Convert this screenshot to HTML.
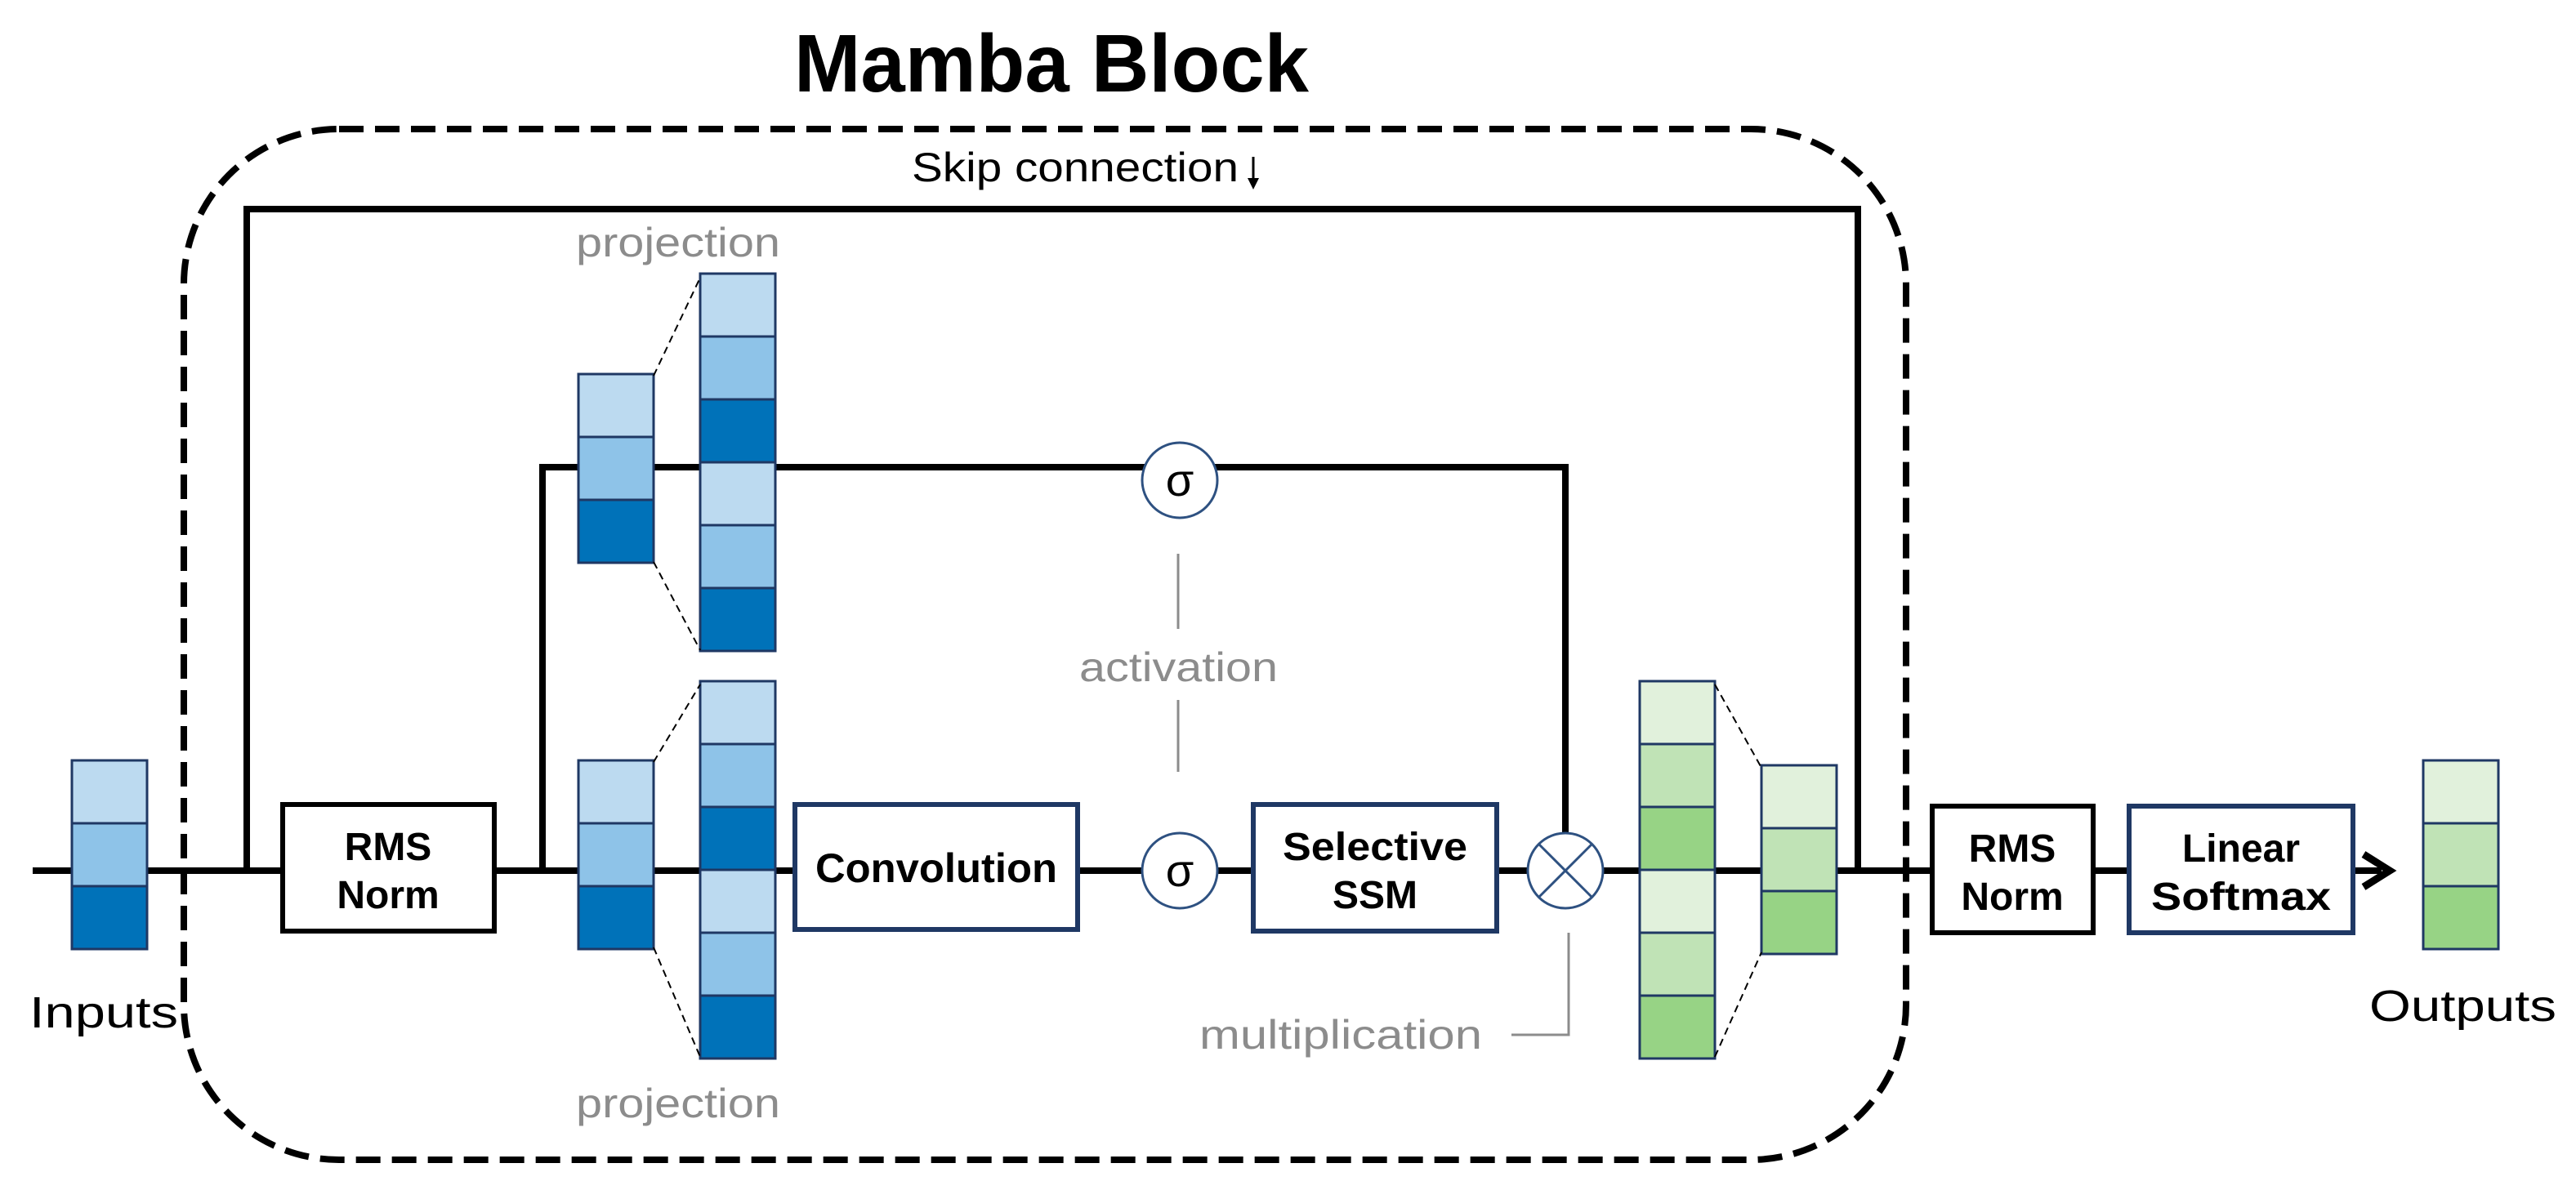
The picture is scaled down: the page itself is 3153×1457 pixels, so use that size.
<!DOCTYPE html>
<html><head><meta charset="utf-8"><style>
html,body{margin:0;padding:0;background:#fff;}
svg{display:block;}
text{font-family:"Liberation Sans","DejaVu Sans",sans-serif;}
</style></head><body>
<svg width="3153" height="1457" viewBox="0 0 3153 1457" xmlns="http://www.w3.org/2000/svg">
<defs>
<g id="bstack">
<rect x="0" y="0" width="92" height="77" fill="#bcdaf0" stroke="#1f3864" stroke-width="3"/>
<rect x="0" y="77" width="92" height="77" fill="#8ec3e8" stroke="#1f3864" stroke-width="3"/>
<rect x="0" y="154" width="92" height="77" fill="#0072b9" stroke="#1f3864" stroke-width="3"/>
</g>
<g id="gstack">
<rect x="0" y="0" width="92" height="77" fill="#e1f1dc" stroke="#1f3864" stroke-width="3"/>
<rect x="0" y="77" width="92" height="77" fill="#c0e3b6" stroke="#1f3864" stroke-width="3"/>
<rect x="0" y="154" width="92" height="77" fill="#97d385" stroke="#1f3864" stroke-width="3"/>
</g>
</defs>

<text x="1287" y="112" font-size="100" font-weight="bold" text-anchor="middle" fill="#000" textLength="630" lengthAdjust="spacingAndGlyphs">Mamba Block</text>

<rect x="225" y="158" width="2108" height="1262" rx="190" ry="190" fill="none" stroke="#000" stroke-width="8" stroke-dasharray="30 14"/>

<text x="1116" y="222" font-size="50" fill="#000" textLength="400" lengthAdjust="spacingAndGlyphs">Skip connection</text>
<line x1="1534" y1="192" x2="1534" y2="224" stroke="#000" stroke-width="3"/>
<polygon points="1527,218 1541,218 1534,232" fill="#000"/>
<polyline points="302,1066 302,256 2274,256 2274,1066" fill="none" stroke="#000" stroke-width="8"/>

<line x1="40" y1="1066" x2="2915" y2="1066" stroke="#000" stroke-width="8"/>
<polyline points="2893,1046 2925,1066 2893,1086" fill="none" stroke="#000" stroke-width="9"/>

<polyline points="664,1066 664,572 1916,572 1916,1030" fill="none" stroke="#000" stroke-width="8"/>

<use href="#bstack" x="88" y="931"/>
<text x="36" y="1258" font-size="54" fill="#000" textLength="182" lengthAdjust="spacingAndGlyphs">Inputs</text>

<rect x="346" y="985" width="259" height="155" fill="#fff" stroke="#000" stroke-width="6"/>
<text x="475" y="1053" font-size="48" font-weight="bold" text-anchor="middle">RMS</text>
<text x="475" y="1112" font-size="48" font-weight="bold" text-anchor="middle">Norm</text>

<text x="705" y="314" font-size="50" fill="#8c8c8c" textLength="250" lengthAdjust="spacingAndGlyphs">projection</text>
<use href="#bstack" x="708" y="458"/>
<use href="#bstack" x="857" y="335"/>
<use href="#bstack" x="857" y="566"/>
<line x1="800" y1="460" x2="857" y2="340" stroke="#000" stroke-width="2" stroke-dasharray="9 6"/>
<line x1="800" y1="688" x2="857" y2="796" stroke="#000" stroke-width="2" stroke-dasharray="9 6"/>

<use href="#bstack" x="708" y="931"/>
<use href="#bstack" x="857" y="834"/>
<use href="#bstack" x="857" y="1065"/>
<line x1="800" y1="933" x2="857" y2="838" stroke="#000" stroke-width="2" stroke-dasharray="9 6"/>
<line x1="800" y1="1160" x2="857" y2="1294" stroke="#000" stroke-width="2" stroke-dasharray="9 6"/>
<text x="705" y="1368" font-size="50" fill="#8c8c8c" textLength="250" lengthAdjust="spacingAndGlyphs">projection</text>

<rect x="973" y="985" width="346" height="153" fill="#fff" stroke="#1f3864" stroke-width="6"/>
<text x="1146" y="1080" font-size="50" font-weight="bold" text-anchor="middle" textLength="296" lengthAdjust="spacingAndGlyphs">Convolution</text>

<circle cx="1444" cy="588" r="46" fill="#fff" stroke="#2e5181" stroke-width="3"/>
<text x="1444" y="607" font-size="56" text-anchor="middle">σ</text>
<circle cx="1444" cy="1066" r="46" fill="#fff" stroke="#2e5181" stroke-width="3"/>
<text x="1444" y="1085" font-size="56" text-anchor="middle">σ</text>

<line x1="1442" y1="678" x2="1442" y2="770" stroke="#8c8c8c" stroke-width="3"/>
<text x="1321" y="834" font-size="50" fill="#8c8c8c" textLength="243" lengthAdjust="spacingAndGlyphs">activation</text>
<line x1="1442" y1="857" x2="1442" y2="945" stroke="#8c8c8c" stroke-width="3"/>

<rect x="1534" y="985" width="298" height="155" fill="#fff" stroke="#1f3864" stroke-width="6"/>
<text x="1683" y="1053" font-size="48" font-weight="bold" text-anchor="middle" textLength="226" lengthAdjust="spacingAndGlyphs">Selective</text>
<text x="1683" y="1112" font-size="48" font-weight="bold" text-anchor="middle">SSM</text>

<circle cx="1916" cy="1066" r="46" fill="#fff" stroke="#2e5181" stroke-width="3"/>
<line x1="1884" y1="1034" x2="1948" y2="1098" stroke="#2e5181" stroke-width="3"/>
<line x1="1948" y1="1034" x2="1884" y2="1098" stroke="#2e5181" stroke-width="3"/>
<polyline points="1850,1267 1920,1267 1920,1142" fill="none" stroke="#8c8c8c" stroke-width="3"/>
<text x="1468" y="1284" font-size="50" fill="#8c8c8c" textLength="346" lengthAdjust="spacingAndGlyphs">multiplication</text>

<use href="#gstack" x="2007" y="834"/>
<use href="#gstack" x="2007" y="1065"/>
<use href="#gstack" x="2156" y="937"/>
<line x1="2099" y1="838" x2="2156" y2="940" stroke="#000" stroke-width="2" stroke-dasharray="9 6"/>
<line x1="2099" y1="1294" x2="2156" y2="1166" stroke="#000" stroke-width="2" stroke-dasharray="9 6"/>

<rect x="2365" y="987" width="197" height="155" fill="#fff" stroke="#000" stroke-width="6"/>
<text x="2463" y="1055" font-size="48" font-weight="bold" text-anchor="middle">RMS</text>
<text x="2463" y="1114" font-size="48" font-weight="bold" text-anchor="middle">Norm</text>

<rect x="2606" y="987" width="274" height="155" fill="#fff" stroke="#1f3864" stroke-width="6"/>
<text x="2743" y="1055" font-size="48" font-weight="bold" text-anchor="middle">Linear</text>
<text x="2743" y="1114" font-size="48" font-weight="bold" text-anchor="middle" textLength="220" lengthAdjust="spacingAndGlyphs">Softmax</text>

<use href="#gstack" x="2966" y="931"/>
<text x="2900" y="1250" font-size="54" fill="#000" textLength="229" lengthAdjust="spacingAndGlyphs">Outputs</text>
</svg>
</body></html>
